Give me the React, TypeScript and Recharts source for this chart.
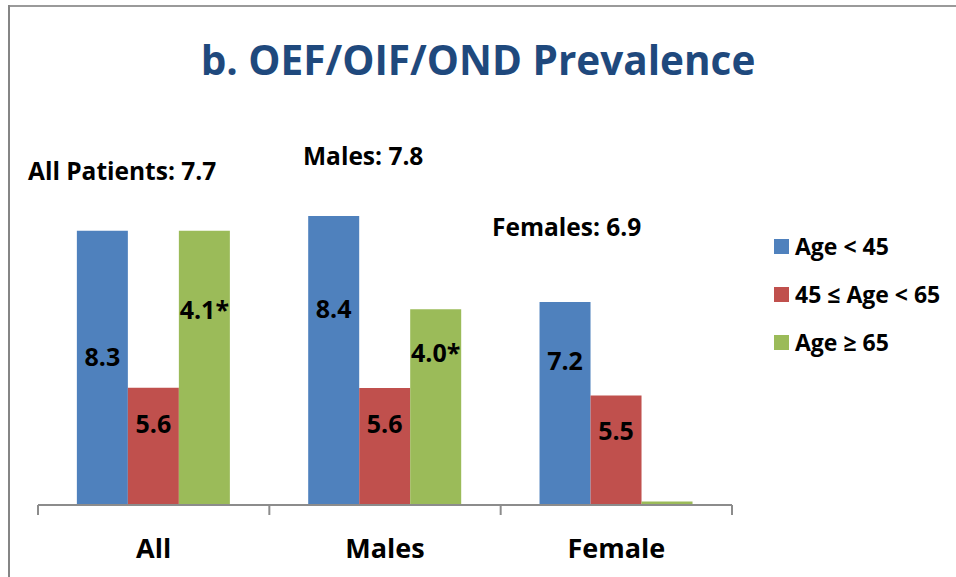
import React from "react";
import { BarChart, Bar, XAxis, YAxis, LabelList } from "recharts";

// ---- data ----
const categories = ["All", "Males", "Female"];
const seriesNames = ["Age < 45", "45 \u2264 Age < 65", "Age \u2265 65"];
const seriesColors = ["#4F81BD", "#C0504D", "#9BBB59"];
// bar heights (arbitrary axis units, 0..10)
const youngValues = [7.97, 8.4, 5.9];
const midValues = [3.41, 3.4, 3.18];
const oldValues = [7.97, 5.69, 0.1];
// printed labels inside the bars
const youngLabels = ["8.3", "8.4", "7.2"];
const midLabels = ["5.6", "5.6", "5.5"];
const oldLabels = ["4.1*", "4.0*", ""];
// where the printed label sits, in the same axis units
const youngLabelAt = [4.29, 5.7, 4.19];
const midLabelAt = [2.35, 2.35, 2.14];
const oldLabelAt = [5.68, 4.42, 0];
const groupTotals = ["All Patients: 7.7", "Males: 7.8", "Females: 6.9"];
const title = "b. OEF/OIF/OND Prevalence";
const yDomain = [0, 10];

const data = categories.map((c, i) => ({
  cat: c,
  young: youngValues[i],
  mid: midValues[i],
  old: oldValues[i],
  youngLabel: youngLabels[i],
  midLabel: midLabels[i],
  oldLabel: oldLabels[i],
}));

const W = 956;
const H = 577;
const FONT = "'Open Sans', 'Noto Sans', sans-serif";
const M = { top: 161, right: 224, bottom: 12, left: 38 };
const PLOT_W = W - M.left - M.right;

const makeLabel = (values: number[], anchors: number[]) => (props: any) => {
  const { x, y, width, height, value, index } = props;
  if (!value) return null;
  const v = values[index];
  const ppu = Number(height) / v;
  const cy = Number(y) + Number(height) - anchors[index] * ppu;
  return (
    <text
      x={Number(x) + Number(width) / 2}
      y={cy + 9}
      textAnchor="middle"
      fontFamily={FONT}
      fontWeight={700}
      fontSize={25}
      fill="#000"
    >
      {value}
    </text>
  );
};

const Tick = (props: any) => {
  const { x, y, payload, index } = props;
  const half =
    payload && typeof payload.offset === "number" && payload.offset > 0
      ? payload.offset
      : PLOT_W / categories.length / 2;
  return (
    <g>
      <line x1={x - half} y1={y} x2={x - half} y2={y + 10} stroke="#8C8C8C" strokeWidth={2} />
      {index === categories.length - 1 && (
        <line x1={x + half} y1={y} x2={x + half} y2={y + 10} stroke="#8C8C8C" strokeWidth={2} />
      )}
      <text
        x={x}
        y={y + 53}
        textAnchor="middle"
        fontFamily={FONT}
        fontWeight={700}
        fontSize={27}
        fill="#000"
      >
        {payload.value}
      </text>
    </g>
  );
};

const LegendBox = () => (
  <div
    style={{
      position: "absolute",
      left: 774,
      top: 222,
      fontFamily: FONT,
      fontWeight: 700,
      fontSize: 23,
      color: "#000",
    }}
  >
    {seriesNames.map((n, i) => (
      <div
        key={n}
        style={{ display: "flex", alignItems: "center", height: 48, whiteSpace: "nowrap" }}
      >
        <span
          style={{
            display: "inline-block",
            width: 15,
            height: 15,
            background: seriesColors[i],
            marginRight: 6,
          }}
        />
        <span>{n}</span>
      </div>
    ))}
  </div>
);

const annotationPos = [
  { x: 28, y: 180 },
  { x: 303, y: 165 },
  { x: 492, y: 236 },
];

export default function App() {
  return (
    <div style={{ position: "absolute", left: 0, top: 0, width: W, height: H, background: "#fff" }}>
      <BarChart
        width={W}
        height={H}
        data={data}
        margin={M}
        barCategoryGap="16.8%"
        barGap={0}
      >
        <XAxis
          dataKey="cat"
          height={60}
          axisLine={{ stroke: "#8C8C8C", strokeWidth: 2 }}
          tickLine={false}
          tickSize={0}
          tickMargin={0}
          tick={<Tick />}
          interval={0}
        />
        <YAxis hide domain={yDomain} width={0} />
        <Bar dataKey="young" name={seriesNames[0]} fill={seriesColors[0]} isAnimationActive={false}>
          <LabelList dataKey="youngLabel" content={makeLabel(youngValues, youngLabelAt)} />
        </Bar>
        <Bar dataKey="mid" name={seriesNames[1]} fill={seriesColors[1]} isAnimationActive={false}>
          <LabelList dataKey="midLabel" content={makeLabel(midValues, midLabelAt)} />
        </Bar>
        <Bar dataKey="old" name={seriesNames[2]} fill={seriesColors[2]} isAnimationActive={false}>
          <LabelList dataKey="oldLabel" content={makeLabel(oldValues, oldLabelAt)} />
        </Bar>
      </BarChart>
      <LegendBox />
      <svg
        width={W}
        height={H}
        style={{ position: "absolute", left: 0, top: 0, pointerEvents: "none" }}
      >
        <line x1={8} y1={6} x2={W} y2={6} stroke="#9A9A9A" strokeWidth={2} />
        <line x1={9} y1={5} x2={9} y2={H} stroke="#858585" strokeWidth={2} />
        <text
          x={478}
          y={75}
          textAnchor="middle"
          fontFamily={FONT}
          fontWeight={700}
          fontSize={40.5}
          fill="#1F497D"
        >
          {title}
        </text>
        {groupTotals.map((t, i) => (
          <text
            key={t}
            x={annotationPos[i].x}
            y={annotationPos[i].y}
            fontFamily={FONT}
            fontWeight={700}
            fontSize={24.5}
            fill="#000"
          >
            {t}
          </text>
        ))}
      </svg>
    </div>
  );
}
